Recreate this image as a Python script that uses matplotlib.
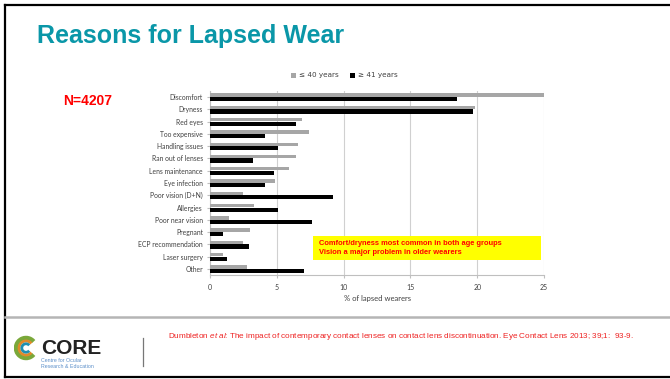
import matplotlib
matplotlib.use('Agg')
import matplotlib.pyplot as plt
import numpy as np
from matplotlib.patches import Rectangle, Arc
from matplotlib.lines import Line2D

plt.rcParams['mathtext.fontset'] = 'custom'
plt.rcParams['mathtext.rm'] = 'Liberation Sans'
plt.rcParams['mathtext.it'] = 'Liberation Sans:italic'

# data
reasons = ['Discomfort', 'Dryness', 'Red eyes', 'Too expensive', 'Handling issues',
           'Ran out of lenses', 'Lens maintenance', 'Eye infection', 'Poor vision (D+N)',
           'Allergies', 'Poor near vision', 'Pregnant', 'ECP recommendation',
           'Laser surgery', 'Other']
under_40 = [25.0, 19.8, 6.9, 7.4, 6.6, 6.4, 5.9, 4.9, 2.5, 3.3, 1.4, 3.0, 2.5, 1.0, 2.8]
over_41 = [18.5, 19.7, 6.4, 4.1, 5.1, 3.2, 4.8, 4.1, 9.2, 5.1, 7.6, 1.0, 2.9, 1.3, 7.0]
xticks = [0, 5, 10, 15, 20, 25]

W, H = 670, 379
fig = plt.figure(figsize=(W / 100, H / 100), dpi=100)
fig.patch.set_facecolor('white')

def px(x, y):
    return x / W, 1 - y / H

# slide frame + separator
fig.add_artist(Line2D([5 / W, 1], [1 - 5 / H, 1 - 5 / H], color='black', lw=1.6, transform=fig.transFigure))
fig.add_artist(Line2D([5 / W, 5 / W], [1 - 5 / H, 1 - 377 / H], color='black', lw=1.6, transform=fig.transFigure))
fig.add_artist(Line2D([5 / W, 1], [1 - 377 / H, 1 - 377 / H], color='black', lw=1.6, transform=fig.transFigure))
fig.add_artist(Line2D([5 / W, 1], [1 - 317 / H, 1 - 317 / H], color='#b5b5b5', lw=1.8, transform=fig.transFigure))

# title and N
fig.text(*px(37, 36), 'Reasons for Lapsed Wear', color='#0a97a8', fontsize=18,
         fontweight='bold', family='Liberation Sans', va='center', ha='left')
fig.text(*px(63, 101), 'N=4207', color='#ff0000', fontsize=10,
         fontweight='bold', family='Liberation Sans', va='center', ha='left')

# chart
ax = fig.add_axes([210 / W, 1 - 275 / H, 334 / W, 184 / H])
y = np.arange(len(reasons))
ax.barh(y - 0.16, under_40, height=0.28, color='#a6a6a6', zorder=3)
ax.barh(y + 0.17, over_41, height=0.34, color='black', zorder=3)
ax.set_ylim(len(reasons) - 0.5, -0.5)
ax.set_xlim(0, 25)
ax.set_xticks(xticks)
ax.set_yticks(y)
ax.set_yticklabels(reasons, fontsize=4.9, color='#404040', family='Lato')
ax.tick_params(axis='x', labelsize=5, labelcolor='#404040', length=2.5, color='#bfbfbf', pad=4)
ax.tick_params(axis='y', length=2, color='#bfbfbf', pad=3)
ax.grid(axis='x', color='#d0d0d0', lw=0.8, zorder=0)
for s in ['top', 'right']:
    ax.spines[s].set_visible(False)
for s in ['left', 'bottom']:
    ax.spines[s].set_color('#bfbfbf')
    ax.spines[s].set_linewidth(0.8)
ax.set_xlabel('% of lapsed wearers', fontsize=5.5, color='#404040', family='Lato', labelpad=3)
for lab in ax.get_xticklabels():
    lab.set_family('Lato')

# legend
fig.add_artist(Rectangle(px(291, 77.5), 5 / W, 5 / H, facecolor='#a6a6a6', edgecolor='none', transform=fig.transFigure))
fig.text(*px(299, 75), '\u2264 40 years', color='#404040', fontsize=5.2, family='DejaVu Sans', va='center', ha='left')
fig.add_artist(Rectangle(px(350, 77.5), 5 / W, 5 / H, facecolor='black', edgecolor='none', transform=fig.transFigure))
fig.text(*px(358, 75), '\u2265 41 years', color='#404040', fontsize=5.2, family='DejaVu Sans', va='center', ha='left')

# yellow note
fig.add_artist(Rectangle(px(313, 260), 228 / W, 24 / H, facecolor='#ffff00', edgecolor='none',
                         transform=fig.transFigure, zorder=5))
fig.text(*px(319, 243), 'Comfort/dryness most common in both age groups', color='#ff0000',
         fontsize=5.4, fontweight='bold', family='Liberation Sans', va='center', zorder=6)
fig.text(*px(319, 252), 'Vision a major problem in older wearers', color='#ff0000',
         fontsize=5.4, fontweight='bold', family='Liberation Sans', va='center', zorder=6)

# logo
lax = fig.add_axes([14 / W, 1 - 372 / H, 110 / W, 44 / H])
lax.set_xlim(0, 110)
lax.set_ylim(44, 0)
lax.axis('off')
lax.set_aspect('equal')
cx, cy = 12, 20
for r, c, w in [(10, '#7aa83a', 3.2), (7, '#e08a2a', 2.0), (4.2, '#1f8fb0', 2.0)]:
    lax.add_patch(Arc((cx, cy), 2 * r, 2 * r, theta1=40, theta2=320, color=c, lw=w))
lax.text(27, 20, 'CORE', fontsize=15, fontweight='bold', color='#222222', family='Liberation Sans', va='center')
lax.text(27, 33, 'Centre for Ocular', fontsize=3.8, color='#5b8fc9', family='Liberation Sans', va='center')
lax.text(27, 38, 'Research & Education', fontsize=3.8, color='#5b8fc9', family='Liberation Sans', va='center')
fig.add_artist(Line2D([143 / W, 143 / W], [1 - 338 / H, 1 - 366 / H], color='#777777', lw=0.9, transform=fig.transFigure))

# citation
fig.text(*px(168, 337), r'Dumbleton $\it{et\ al}$: The impact of contemporary contact lenses on contact lens discontinuation. Eye Contact Lens 2013; 39;1:  93-9.',
         color='#ee2222', fontsize=5.9, family='Liberation Sans', va='center', ha='left')

fig.savefig('out.png', dpi=100, facecolor='white')
